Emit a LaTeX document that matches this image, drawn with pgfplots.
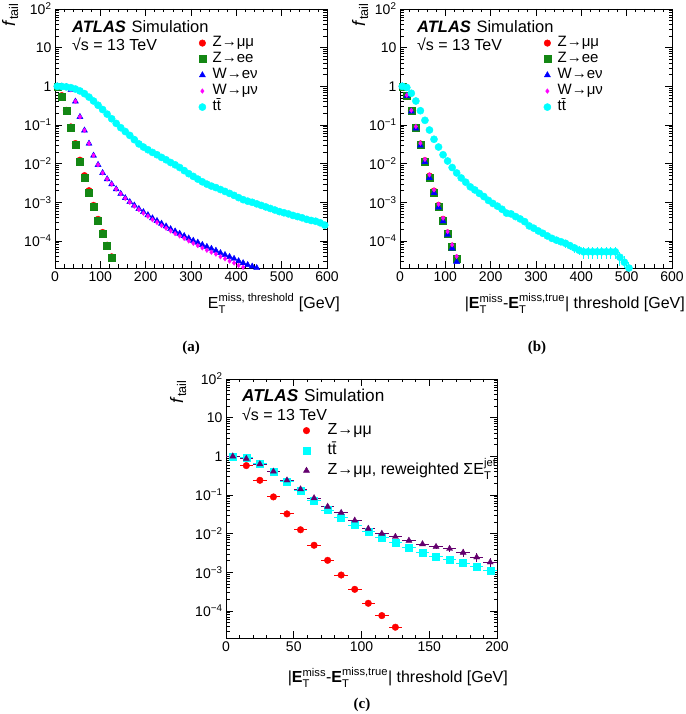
\documentclass[border=0pt]{standalone}
\usepackage{amsmath}
\usepackage{fontspec}
\setmainfont{Liberation Sans}
\newfontfamily\capfont{Liberation Serif}
\usepackage{pgfplots}
\pgfplotsset{compat=1.18}
\definecolor{rgreen}{RGB}{20,135,20}
\definecolor{rpurple}{RGB}{100,0,110}
\definecolor{rcyan}{RGB}{0,255,255}
\definecolor{rmag}{RGB}{255,0,255}
\definecolor{rred}{RGB}{255,0,0}
\definecolor{rblue}{RGB}{0,0,255}
\newcommand{\ttbar}{t\={t}}
\pgfplotsset{
    scale only axis, width=272pt, height=259pt,
    ymin=2e-5, ymax=100,
    ytick={1e-4,1e-3,1e-2,0.1,1,10,100},
    yticklabels={10\textsuperscript{−4},10\textsuperscript{−3},10\textsuperscript{−2},10\textsuperscript{−1},1,10,10\textsuperscript{2}},
    minor ytick={2e-5,3e-5,4e-5,5e-5,6e-5,7e-5,8e-5,9e-5,
      2e-4,3e-4,4e-4,5e-4,6e-4,7e-4,8e-4,9e-4,
      2e-3,3e-3,4e-3,5e-3,6e-3,7e-3,8e-3,9e-3,
      0.02,0.03,0.04,0.05,0.06,0.07,0.08,0.09,
      0.2,0.3,0.4,0.5,0.6,0.7,0.8,0.9,
      2,3,4,5,6,7,8,9,20,30,40,50,60,70,80,90},
    tick align=inside, major tick length=7pt, minor tick length=3.5pt,
    every tick/.style={black, line width=0.7pt},
    axis line style={line width=0.8pt},
    ticklabel style={font=\fontsize{14}{16}\selectfont},
    /pgf/number format/assume math mode=true,
    legend cell align=left,
    legend style={draw=none, fill=none, inner sep=0pt, row sep=0pt,
      font=\fontsize{15}{15}\selectfont,
      nodes={inner sep=1pt, text height=10.5pt, text depth=3.5pt}},
    legend image code/.code={\path (0pt,0pt) (17pt,0pt); \draw[only marks] plot coordinates {(8pt,0pt)};},
}
\pgfplotstableread{
x y
5 1.0
15 0.575
25 0.240
35 0.0891
45 0.0331
55 0.0123
65 0.00490
75 0.00200
85 0.000832
95 0.000363
105 0.000166
115 7.76e-5
125 3.89e-5
}\aZmm
\pgfplotstableread{
x y
5 1.0
15 0.550
25 0.229
35 0.0832
45 0.0302
55 0.0112
65 0.00437
75 0.00182
85 0.000776
95 0.000339
105 0.000158
115 7.41e-5
125 3.72e-5
}\aZee
\pgfplotstableread{
x y
5 1.0
15 0.989
25 0.955
35 0.813
45 0.407
55 0.162
65 0.0724
75 0.0331
85 0.0162
95 0.00933
105 0.00575
115 0.00398
125 0.00295
135 0.00219
145 0.00166
155 0.00129
165 0.00102
175 0.000832
185 0.000676
195 0.000562
205 0.000468
215 0.000389
225 0.000331
235 0.000282
245 0.000240
255 0.000204
265 0.000178
275 0.000155
285 0.000135
295 0.000117
305 0.000102
315 9.12e-5
325 7.94e-5
335 7.08e-5
345 6.31e-5
355 5.62e-5
365 4.90e-5
375 4.37e-5
385 3.89e-5
395 3.47e-5
405 3.02e-5
415 2.69e-5
425 2.40e-5
435 2.19e-5
445 2.00e-5
}\aWen
\pgfplotstableread{
x y
5 1.0
15 0.989
25 0.955
35 0.813
45 0.407
55 0.162
65 0.0724
75 0.0331
85 0.0162
95 0.00933
105 0.00575
115 0.00398
125 0.00295
135 0.00219
145 0.00166
155 0.00126
165 0.00100
175 0.000794
185 0.000646
195 0.000525
205 0.000437
215 0.000355
225 0.000302
235 0.000251
245 0.000214
255 0.000182
265 0.000155
275 0.000135
285 0.000117
295 0.000100
305 8.71e-5
315 7.59e-5
325 6.61e-5
335 5.75e-5
345 5.13e-5
355 4.57e-5
365 3.89e-5
375 3.47e-5
385 3.02e-5
395 2.69e-5
405 2.34e-5
415 2.09e-5
}\aWmn
\pgfplotstableread{
x y
5 1.0
15 0.989
25 0.966
35 0.923
45 0.851
55 0.759
65 0.646
75 0.525
85 0.417
95 0.324
105 0.251
115 0.191
125 0.145
135 0.110
145 0.0851
155 0.0676
165 0.0537
175 0.0417
185 0.0324
195 0.0269
205 0.0229
215 0.0195
225 0.0170
235 0.0145
245 0.0126
255 0.0107
265 0.00933
275 0.00794
285 0.00661
295 0.00550
305 0.00468
315 0.00398
325 0.00339
335 0.00295
345 0.00263
355 0.00240
365 0.00214
375 0.00191
385 0.00170
395 0.00151
405 0.00132
415 0.00117
425 0.00107
435 0.00100
445 0.000912
455 0.000832
465 0.000759
475 0.000692
485 0.000631
495 0.000575
505 0.000537
515 0.000501
525 0.000457
535 0.000427
545 0.000398
555 0.000363
565 0.000339
575 0.000324
585 0.000295
595 0.000257
}\aTtb
\pgfplotstableread{
x y
5 1.0
15 0.575
25 0.234
35 0.0871
45 0.0324
55 0.0120
65 0.00479
75 0.00195
85 0.000832
95 0.000363
105 0.000162
115 7.41e-5
125 3.63e-5
}\bZmm
\pgfplotstableread{
x y
5 1.0
15 0.562
25 0.229
35 0.0832
45 0.0302
55 0.0112
65 0.00437
75 0.00178
85 0.000776
95 0.000339
105 0.000151
115 6.92e-5
125 3.39e-5
}\bZee
\pgfplotstableread{
x y
5 1.0
15 0.562
25 0.224
35 0.0813
45 0.0295
55 0.0110
65 0.00427
75 0.00174
85 0.000741
95 0.000324
105 0.000145
115 6.46e-5
125 2.88e-5
}\bWen
\pgfplotstableread{
x y
5 1.0
15 0.589
25 0.240
35 0.0912
45 0.0339
55 0.0129
65 0.00513
75 0.00209
85 0.000891
95 0.000389
105 0.000174
115 7.94e-5
125 3.98e-5
}\bWmn
\pgfplotstableread{
x y e
5 1.0 0
15 0.933 0
25 0.661 0
35 0.417 0
45 0.234 0
55 0.132 0
65 0.0741 0
75 0.0427 0
85 0.0269 0
95 0.0170 0
105 0.0117 0
115 0.00794 0
125 0.00575 0
135 0.00427 0
145 0.00331 0
155 0.00251 0.00008
165 0.00209 0.00008
175 0.00170 0.00007
185 0.00141 0.00006
195 0.00112 0.00005
205 0.000933 0.00006
215 0.000794 0.00006
225 0.000661 0.00005
235 0.000525 0.00004
245 0.000501 0.00004
255 0.000427 0.00003
265 0.000372 0.000045
275 0.000316 0.000038
285 0.000245 0.000030
295 0.000214 0.000026
305 0.000182 0.000022
315 0.000158 0.000028
325 0.000135 0.000024
335 0.000117 0.000021
345 0.000105 0.000019
355 9.55e-5 0.000017
365 8.71e-5 0.000022
375 7.59e-5 0.000019
385 6.61e-5 0.000017
395 5.75e-5 0.000015
405 5.25e-5 0.000018
415 5.25e-5 0.000018
425 5.25e-5 0.000018
435 5.25e-5 0.000018
445 5.25e-5 0.000018
455 5.25e-5 0.000018
465 5.25e-5 0.000018
475 5.25e-5 0.000018
485 3.80e-5 0.000015
495 2.82e-5 0.000012
505 2.00e-5 0.000009
}\bTtb
\pgfplotstableread{
x y
5 1.0
15 0.575
25 0.240
35 0.0891
45 0.0324
55 0.0126
65 0.00501
75 0.00204
85 0.000851
95 0.000363
105 0.000158
115 7.59e-5
125 3.80e-5
}\cZmm
\pgfplotstableread{
x y e
5 1.0 0.01
15 0.912 0.01
25 0.646 0.01
35 0.398 0.006
45 0.224 0.004
55 0.132 0.003
65 0.0708 0.002
75 0.0407 0.0012
85 0.0257 0.0008
95 0.0166 0.0005
105 0.0115 0.0004
115 0.00794 0.0003
125 0.00575 0.0002
135 0.00427 0.00015
145 0.00324 0.00012
155 0.00251 0.0001
165 0.00209 0.00009
175 0.00174 0.00008
185 0.00138 0.00007
195 0.00112 0.00006
}\cTtb
\pgfplotstableread{
x y e
5 1.0 0.03
15 0.871 0.026
25 0.631 0.019
35 0.407 0.012
45 0.240 0.007
55 0.141 0.004
65 0.0832 0.0025
75 0.0501 0.0015
85 0.0347 0.001
95 0.0219 0.0007
105 0.0135 0.0008
115 0.0100 0.0006
125 0.00832 0.0005
135 0.00661 0.0004
145 0.00537 0.00054
155 0.00457 0.00064
165 0.00407 0.00073
175 0.00324 0.00071
185 0.00245 0.00064
195 0.00182 0.00055
}\cRew
\begin{document}
\begin{tikzpicture}[x=1pt,y=1pt]
\path[use as bounding box] (0,0) rectangle (685,714);
% ---------------- (a)
\begin{axis}[ymode=log, at={(55pt,446pt)}, anchor=south west,
  xmin=0, xmax=600, xtick={0,100,...,600}, minor x tick num=4,
  legend style={at={(rel axis cs:0.511,0.900)}, anchor=north west}]
\addplot[only marks, mark=*, mark size=3.3pt, color=rred] table[x=x,y=y] {\aZmm};
\addplot[only marks, mark=square*, mark size=3.5pt, color=rgreen] table[x=x,y=y] {\aZee};
\addplot[only marks, mark=triangle*, mark size=3.5pt, color=rblue] table[x=x,y=y] {\aWen};
\addplot[only marks, mark=diamond*, mark size=2.3pt, color=rmag] table[x=x,y=y] {\aWmn};
\addplot[only marks, mark=*, mark size=3.6pt, color=rcyan] table[x=x,y=y] {\aTtb};
\legend{Z→μμ,Z→ee,W→eν,W→μν,\ttbar}
\end{axis}
% ---------------- (b)
\begin{axis}[ymode=log, at={(400pt,446pt)}, anchor=south west,
  xmin=0, xmax=600, xtick={0,100,...,600}, minor x tick num=4,
  legend style={at={(rel axis cs:0.511,0.900)}, anchor=north west}]
\addplot[only marks, mark=*, mark size=3.3pt, color=rred] table[x=x,y=y] {\bZmm};
\addplot[only marks, mark=square*, mark size=3.5pt, color=rgreen] table[x=x,y=y] {\bZee};
\addplot[only marks, mark=triangle*, mark size=3.5pt, color=rblue] table[x=x,y=y] {\bWen};
\addplot[only marks, mark=diamond*, mark size=2.3pt, color=rmag] table[x=x,y=y] {\bWmn};
\addplot[only marks, mark=*, mark size=3.6pt, color=rcyan, error bars/.cd, y dir=both, y explicit, error mark=none,
  error bar style={line width=0.9pt, rcyan}] table[x=x,y=y,y error=e] {\bTtb};
\legend{Z→μμ,Z→ee,W→eν,W→μν,\ttbar}
\end{axis}
% ---------------- (c)
\begin{axis}[ymode=log, at={(226pt,76pt)}, anchor=south west, width=271pt,
  xmin=0, xmax=200, xtick={0,50,...,200}, minor x tick num=4,
  legend style={at={(rel axis cs:0.266,0.840)}, anchor=north west,
    font=\fontsize{16}{18}\selectfont,
    nodes={inner sep=1pt, text height=13pt, text depth=5pt}},
  legend image code/.code={\path (0pt,0pt) (28pt,0pt); \draw[only marks] plot coordinates {(8pt,0pt)};}]
\addplot[only marks, mark=*, mark size=3.3pt, color=rred, error bars/.cd, x dir=both, x fixed=5, error mark=none,
  error bar style={line width=0.9pt, rred}] table[x=x,y=y] {\cZmm};
\addplot[only marks, mark=square*, mark size=3.5pt, color=rcyan, error bars/.cd, x dir=both, x fixed=5, y dir=both, y explicit, error mark=none,
  error bar style={line width=0.9pt, rcyan}] table[x=x,y=y,y error=e] {\cTtb};
\addplot[only marks, mark=triangle*, mark size=3.5pt, color=rpurple, error bars/.cd, x dir=both, x fixed=5, y dir=both, y explicit, error mark=none,
  error bar style={line width=0.9pt, rpurple}] table[x=x,y=y,y error=e] {\cRew};
\legend{Z→μμ,\ttbar,{Z→μμ, reweighted ΣE$^{\text{jet}}_{\text{T}}$}}
\end{axis}
% ---------------- texts
\begin{scope}[font=\fontsize{16.5}{18}\selectfont]
\node[anchor=base west, inner sep=0pt] at (72,681) {\textbf{\textit{ATLAS}}\hspace{1pt} Simulation};
\node[anchor=base west, inner sep=0pt] at (417,681) {\textbf{\textit{ATLAS}}\hspace{1pt} Simulation};
\node[anchor=base west, inner sep=0pt, font=\fontsize{17.2}{18}\selectfont] at (242,312) {\textbf{\textit{ATLAS}}\hspace{1pt} Simulation};
\end{scope}
\begin{scope}[font=\fontsize{16}{18}\selectfont]
\node[anchor=base west, inner sep=0pt] at (72,663) {√s = 13 TeV};
\node[anchor=base west, inner sep=0pt] at (417,663) {√s = 13 TeV};
\node[anchor=base west, inner sep=0pt] at (242,293) {√s = 13 TeV};
\end{scope}
\begin{scope}[font=\fontsize{18}{20}\selectfont]
\node[rotate=90, anchor=base east, inner sep=0pt] at (15,711) {\textit{f}\textsubscript{tail}};
\node[rotate=90, anchor=base east, inner sep=0pt] at (365,711) {\textit{f}\textsubscript{tail}};
\node[rotate=90, anchor=base east, inner sep=0pt] at (183,334) {\textit{f}\textsubscript{tail}};
\end{scope}
\begin{scope}[font=\fontsize{16}{18}\selectfont]
\node[anchor=base east, inner sep=0pt] at (340,405) {E$^{\text{miss, threshold}}_{\text{T}}$ [GeV]};
\node[anchor=base east, inner sep=0pt] at (685,405) {|\textbf{E}$^{\text{miss}}_{\text{T}}$-\textbf{E}$^{\text{miss,true}}_{\text{T}}$| threshold [GeV]};
\node[anchor=base east, inner sep=0pt] at (508,31) {|\textbf{E}$^{\text{miss}}_{\text{T}}$-\textbf{E}$^{\text{miss,true}}_{\text{T}}$| threshold [GeV]};
\end{scope}
\begin{scope}[font=\capfont\bfseries\fontsize{15}{17}\selectfont]
\node at (191,366) {(a)};
\node at (537,366) {(b)};
\node at (362,9) {(c)};
\end{scope}
\end{tikzpicture}
\end{document}
